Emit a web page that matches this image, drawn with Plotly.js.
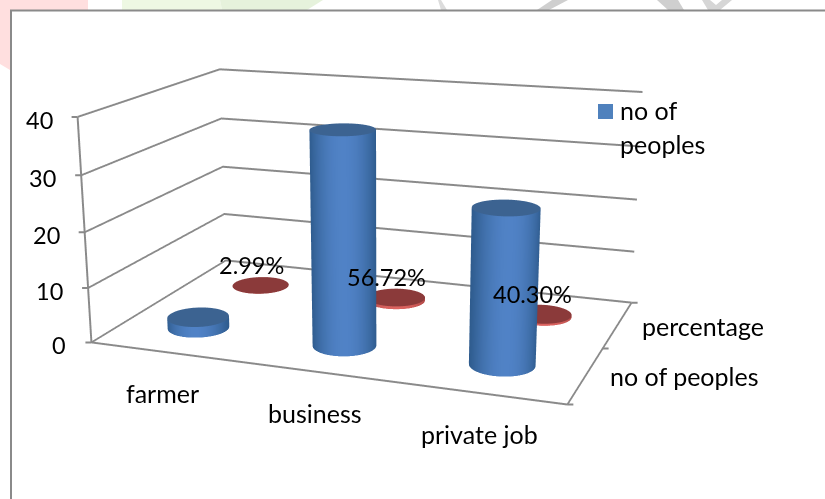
<!DOCTYPE html>
<html><head><meta charset="utf-8"><script src="https://cdn.plot.ly/plotly-3.0.1.min.js"></script>
<style>html,body{margin:0;padding:0;background:#fff;overflow:hidden;width:825px;height:499px}
#chart{position:absolute;left:-455px;top:-329px;width:1600px;height:1200px}</style></head>
<body><div id="chart"></div><script>
// Chart data
const categories=['farmer','business','private job'];
const seriesNames=['no of peoples','percentage'];
const peopleCounts=[2,38,27];
const percentageShares=[0.0299,0.5672,0.4030];
const valueTicks=[0,10,20,30,40];

// The figure is larger than the window so the scene's optical centre and focal length fit the view
const figW=1600,figH=1200,offX=455,offY=329;
const px=x=>(x+offX)/figW, py=y=>1-(y+offY)/figH;
const fontFamily='Lato, Carlito, sans-serif', textSize=25, numberSize=23.5, ink='#000', axisGray='#8a8a8a';
const aspect={x:0.734,y:0.472,z:0.347};
const eye={x:0.746,y:-2.035,z:0.561}, center={x:0.154,y:-0.510,z:0.070}, up={x:0.064,y:-0.145,z:1};

// Cylinder radius in scene units, and the horizontal screen-right direction for shading
const radius=0.048;
const rightDir=[0.932,0.362];
function hex(c){return[parseInt(c.slice(1,3),16),parseInt(c.slice(3,5),16),parseInt(c.slice(5,7),16)]}
function mix(a,b,t){const A=hex(a),B=hex(b);return 'rgb('+A.map((v,i)=>Math.round(v+(B[i]-v)*t)).join(',')+')'}

function cylinder(cat,ser,value,colors){
  const n=72,xs=[],ys=[],zs=[],vc=[],I=[],J=[],K=[];
  const cx=cat+0.5,cy=ser+0.5;
  const rx=radius/(aspect.x/categories.length),ry=radius/(aspect.y/seriesNames.length);
  for(let k=0;k<n;k++){
    const a=2*Math.PI*k/n,c=Math.cos(a),s=Math.sin(a);
    const u=Math.abs(c*rightDir[0]+s*rightDir[1]);
    const col=mix(colors.mid,colors.edge,u*u);
    xs.push(cx+rx*c,cx+rx*c);ys.push(cy+ry*s,cy+ry*s);zs.push(0,value);vc.push(col,col);
    const p=2*k,q=2*((k+1)%n);
    I.push(p,q);J.push(q,q+1);K.push(p+1,p+1);
  }
  // top cap
  const hub=xs.length;xs.push(cx);ys.push(cy);zs.push(value);vc.push(colors.top);
  const first=xs.length;
  for(let k=0;k<n;k++){
    const a=2*Math.PI*k/n;
    xs.push(cx+rx*Math.cos(a));ys.push(cy+ry*Math.sin(a));zs.push(value);vc.push(colors.top);
    I.push(hub);J.push(first+k);K.push(first+(k+1)%n);
  }
  return{type:'mesh3d',x:xs,y:ys,z:zs,i:I,j:J,k:K,vertexcolor:vc,hoverinfo:'skip',showscale:false,
    lighting:{ambient:1,diffuse:0,specular:0,roughness:1,fresnel:0},flatshading:false};
}
const blue={mid:'#5082c6',edge:'#2f5c8e',top:'#3c6391'};
const red={mid:'#dc6360',edge:'#b04a47',top:'#8b3a3a'};
const traces=[
  ...peopleCounts.map((v,i)=>cylinder(i,0,v,blue)),
  ...percentageShares.map((v,i)=>cylinder(i,1,v,red))
];

function label(x,y,z,text,xshift,yshift,anchor,size){
  return{x,y,z,text,showarrow:false,xshift,yshift,xanchor:anchor||'center',yanchor:'middle',
    font:{family:fontFamily,size:size||textSize,color:ink}};
}
function tick(x,y,z,ax,ay){
  return{x,y,z,showarrow:true,arrowhead:0,arrowwidth:2,arrowcolor:axisGray,ax,ay,standoff:0,startstandoff:0};
}
const sceneNotes=[
  ...valueTicks.map(v=>label(0,0,v,String(v),-23,-3,'right',numberSize)),
  ...valueTicks.map(v=>tick(0,0,v,-9,0)),
  ...[0,1,2,3].map(c=>tick(c,0,0,0,9)),
  ...[0,1,2].map(s=>tick(3,s,0,9,0)),
  ...categories.map((c,i)=>label(i+0.5,0,0,c,0,-41)),
  ...seriesNames.map((s,i)=>label(3,i+0.5,0,s,22,-1,'left')),
  ...percentageShares.map((v,i)=>label(i+0.5,1.5,v,(v*100).toFixed(2)+'%',-9,20,'center',numberSize))
];

const layoutShapes=[
  // faint page artwork along the top edge
  {type:'path',xref:'paper',yref:'paper',fillcolor:'#ffdfdf',line:{width:0},
   path:`M${px(0)},${py(0)}L${px(88)},${py(0)}L${px(88)},${py(10)}L${px(10)},${py(10)}L${px(10)},${py(70)}L${px(0)},${py(64)}Z`},
  {type:'path',xref:'paper',yref:'paper',fillcolor:'#eef8e3',line:{width:0},
   path:`M${px(122)},${py(0)}L${px(220)},${py(0)}L${px(222)},${py(10)}L${px(122)},${py(10)}Z`},
  {type:'path',xref:'paper',yref:'paper',fillcolor:'#e6f2dc',line:{width:0},
   path:`M${px(220)},${py(0)}L${px(323)},${py(0)}L${px(307)},${py(10)}L${px(222)},${py(10)}Z`},
  {type:'path',xref:'paper',yref:'paper',fillcolor:'#dcdcdc',line:{width:0},
   path:`M${px(438)},${py(0)}L${px(441)},${py(0)}L${px(447)},${py(10)}L${px(441)},${py(10)}Z`},
  {type:'path',xref:'paper',yref:'paper',fillcolor:'#cfcfcf',line:{width:0},
   path:`M${px(552)},${py(0)}L${px(568)},${py(0)}L${px(549)},${py(10)}L${px(537)},${py(10)}Z`},
  {type:'path',xref:'paper',yref:'paper',fillcolor:'#cfcfcf',line:{width:0},
   path:`M${px(657)},${py(0)}L${px(678)},${py(0)}L${px(684)},${py(10)}L${px(668)},${py(10)}Z`},
  {type:'path',xref:'paper',yref:'paper',fillcolor:'#d6d6d6',line:{width:0},
   path:`M${px(702)},${py(0)}L${px(710)},${py(0)}L${px(716)},${py(5)}L${px(722)},${py(0)}L${px(732)},${py(0)}L${px(720)},${py(10)}L${px(708)},${py(10)}Z`},
  // chart frame
  {type:'rect',xref:'paper',yref:'paper',x0:px(11),x1:px(900),y0:py(10.5),y1:py(560),line:{color:'#8a8a8a',width:2},fillcolor:'rgba(255,255,255,0)'},
  // legend swatch
  {type:'rect',xref:'paper',yref:'paper',x0:px(598),x1:px(613),y0:py(104),y1:py(119),line:{width:0},fillcolor:'#4f81bd'}
];
function paperText(x,y,text){
  return{xref:'paper',yref:'paper',x:px(x),y:py(y),text,showarrow:false,xanchor:'left',yanchor:'middle',
    font:{family:fontFamily,size:textSize,color:ink}};
}
const axisCommon={showbackground:false,showspikes:false,zeroline:false,showticklabels:false,
  showline:true,linecolor:axisGray,linewidth:4,ticks:'',title:{text:''},showgrid:false,autorange:false};
const layout={
  width:figW,height:figH,margin:{l:0,r:0,t:0,b:0,pad:0},paper_bgcolor:'rgba(255,255,255,0)',showlegend:false,
  shapes:layoutShapes,
  annotations:[paperText(618,110,'no of'),paperText(618,144,'peoples')],
  scene:{domain:{x:[0,1],y:[0,1]},bgcolor:'rgba(0,0,0,0)',aspectmode:'manual',aspectratio:aspect,
    camera:{eye,center,up,projection:{type:'perspective'}},
    xaxis:{...axisCommon,range:[0,categories.length]},
    yaxis:{...axisCommon,range:[0,seriesNames.length]},
    zaxis:{...axisCommon,range:[valueTicks[0],valueTicks[valueTicks.length-1]],tickmode:'array',tickvals:valueTicks,
      showgrid:true,gridcolor:axisGray,gridwidth:4},
    annotations:sceneNotes}
};
Plotly.newPlot('chart',traces,layout,{displayModeBar:false});
</script></body></html>
